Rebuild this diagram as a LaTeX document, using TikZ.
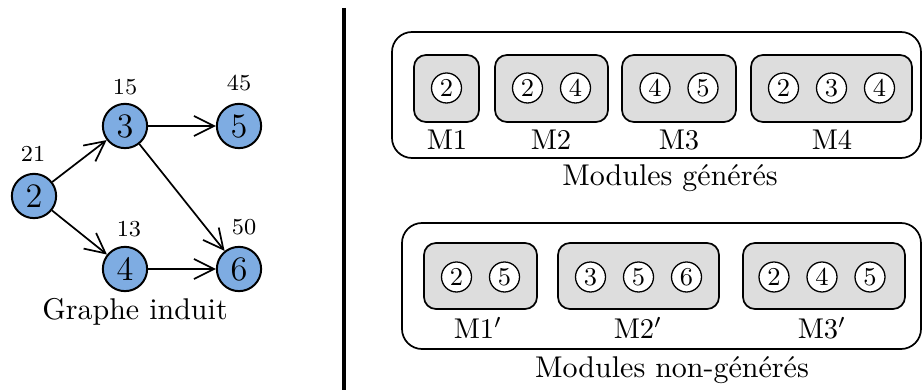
\documentclass[tikz,border=0pt]{standalone}
\usetikzlibrary{arrows.meta}
\definecolor{nodeblue}{RGB}{126,172,226}
\definecolor{modgray}{RGB}{221,221,221}
\begin{document}
\begin{tikzpicture}[x=0.35pt,y=-0.35pt,
  gnode/.style={circle,draw,line width=0.7pt,fill=nodeblue,minimum size=15.5pt,inner sep=0pt,font=\fontsize{12}{14}\selectfont},
  wlabel/.style={font=\fontsize{8}{9}\selectfont,inner sep=0pt},
  garrow/.style={line width=0.6pt,-{Straight Barb[length=7pt,width=7pt]}},
  outerbox/.style={draw,line width=0.6pt,rounded corners=7pt,minimum height=44.1pt,inner sep=0pt},
  modbox/.style={draw,line width=0.6pt,fill=modgray,rounded corners=4.2pt,inner sep=0pt},
  small/.style={circle,draw,fill=white,line width=0.45pt,minimum size=10.5pt,inner sep=0pt,font=\fontsize{9}{10}\selectfont},
  mlabel/.style={font=\fontsize{10}{12}\selectfont,inner sep=0pt},
  caption/.style={font=\fontsize{10.5}{12}\selectfont,inner sep=0pt}]
\useasboundingbox (0,0) rectangle (923,390);
% graph
\node[gnode] (n2) at (34,196) {2};
\node[gnode] (n3) at (125,126) {3};
\node[gnode] (n5) at (239,126) {5};
\node[gnode] (n4) at (125,269) {4};
\node[gnode] (n6) at (239,269) {6};
\node[wlabel] (w2) at (33,154) {21};
\node[wlabel] (w3) at (125,87) {15};
\node[wlabel] (w5) at (239,83) {45};
\node[wlabel] (w4) at (129,229) {13};
\node[wlabel] (w6) at (244,227) {50};
\draw[garrow] (n2) -- (n3);
\draw[garrow] (n2) -- (n4);
\draw[garrow] (n3) -- (n5);
\draw[garrow] (n3) -- (n6);
\draw[garrow] (n4) -- (n6);
\node[caption] (gcap) at (135,312) {Graphe induit};
% separator
\coordinate (s1) at (344,8);
\coordinate (s2) at (344,390);
\draw[line width=1.4pt] (s1) -- (s2);
% top group
\node[outerbox,minimum width=185.15pt] (gtop) at (656.5,95) {};
\node[modbox,minimum width=22.75pt,minimum height=23.45pt] (m1) at (446.5,88.5) {};
\node[modbox,minimum width=39.55pt,minimum height=23.45pt] (m2) at (551.5,88.5) {};
\node[modbox,minimum width=39.9pt,minimum height=23.45pt] (m3) at (679,88.5) {};
\node[modbox,minimum width=56.35pt,minimum height=23.45pt] (m4) at (831.5,88.5) {};
\node[small] (a1) at (446.5,88) {2};
\node[small] (a2) at (527.5,88) {2};
\node[small] (a3) at (575.5,88) {4};
\node[small] (a4) at (655,88) {4};
\node[small] (a5) at (703,88) {5};
\node[small] (a6) at (783.5,88) {2};
\node[small] (a7) at (831.5,88) {3};
\node[small] (a8) at (879.5,88) {4};
\node[mlabel] (l1) at (447,140) {M1};
\node[mlabel] (l2) at (551,140) {M2};
\node[mlabel] (l3) at (679,140) {M3};
\node[mlabel] (l4) at (832,140) {M4};
\node[caption] (ctop) at (670,178) {Modules générés};
% bottom group
\node[outerbox,minimum width=181.65pt] (gbot) at (661.5,286) {};
\node[modbox,minimum width=39.55pt,minimum height=23.1pt] (p1) at (480.5,276) {};
\node[modbox,minimum width=56.35pt,minimum height=23.1pt] (p2) at (638.5,276) {};
\node[modbox,minimum width=56.7pt,minimum height=23.1pt] (p3) at (824,276) {};
\node[small] (b1) at (456.5,277) {2};
\node[small] (b2) at (504.5,277) {5};
\node[small] (b3) at (590.5,277) {3};
\node[small] (b4) at (638.5,277) {5};
\node[small] (b5) at (686.5,277) {6};
\node[small] (b6) at (774,277) {2};
\node[small] (b7) at (822,277) {4};
\node[small] (b8) at (870,277) {5};
\node[mlabel] (k1) at (478,328) {M1$'$};
\node[mlabel] (k2) at (638,328) {M2$'$};
\node[mlabel] (k3) at (822,328) {M3$'$};
\node[caption] (cbot) at (672,370) {Modules non-générés};
\end{tikzpicture}
\end{document}
